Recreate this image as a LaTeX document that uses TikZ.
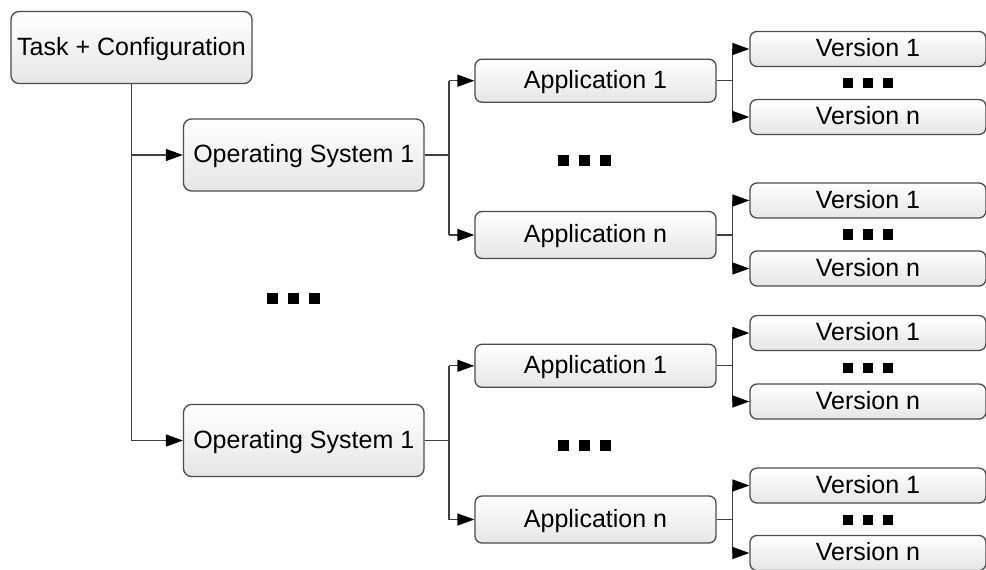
\documentclass[tikz,border=0pt]{standalone}
\usepackage{fontspec}
\setmainfont{Liberation Sans}
\usetikzlibrary{arrows.meta,calc}

\tikzset{
  box/.style={draw=black!70, line width=1.3pt, rounded corners=8pt,
    top color=white, bottom color=black!10, inner sep=0pt,
    text height=18pt, text depth=3pt,
    font=\fontsize{25}{28}\selectfont, text=black},
  bigbox/.style={box, minimum width=240.5pt, minimum height=72pt},
  appbox/.style={box, minimum width=241pt, rounded corners=7pt},
  verbox/.style={box, minimum width=236pt, minimum height=35pt, rounded corners=7pt},
  link/.style={draw=black!75, line width=1.3pt},
  arr/.style={link, -{Triangle[length=17pt,width=12pt,black]}},
  pics/threedots/.style={code={
    \foreach \i in {-1,0,1}
      \fill[black] ($(\i*#1,0)+(-5.5pt,-5.5pt)$) rectangle ++(11pt,11pt);
  }},
}

\begin{document}
\begin{tikzpicture}[x=1pt, y=-1pt]
  \clip (0,0) rectangle (986,570);
  \fill[white] (0,0) rectangle (986,570);

  % root and operating systems
  \node[box, minimum width=241pt, minimum height=72pt] (task) at (131.5,47.5) {Task + Configuration};
  \node[bigbox] (os1) at (303.75,155) {Operating System 1};
  \node[bigbox] (os2) at (303.75,440.5) {Operating System 1};

  % applications
  \node[appbox, minimum height=43pt] (a11) at (595.5,80.7) {Application 1};
  \node[appbox, minimum height=47pt] (a1n) at (595.5,235) {Application n};
  \node[appbox, minimum height=43pt] (a21) at (595.5,365.8) {Application 1};
  \node[appbox, minimum height=47pt] (a2n) at (595.5,519.5) {Application n};

  % versions
  \node[verbox] (v111) at (868,49) {Version 1};
  \node[verbox] (v11n) at (868,117) {Version n};
  \node[verbox] (v1n1) at (868,200.5) {Version 1};
  \node[verbox] (v1nn) at (868,268.5) {Version n};
  \node[verbox] (v211) at (868,333) {Version 1};
  \node[verbox] (v21n) at (868,401.5) {Version n};
  \node[verbox] (v2n1) at (868,485.5) {Version 1};
  \node[verbox] (v2nn) at (868,553) {Version n};

  % fork points
  \coordinate (ox) at (449,0);
  \coordinate (ax) at (732.5,0);

  % root to operating systems
  \draw[link] (task.south) -- (task.south |- os2.west);
  \draw[arr] (task.south |- os1.west) -- (os1.west);
  \draw[arr] (task.south |- os2.west) -- (os2.west);

  % operating systems to applications
  \foreach \o/\p/\q in {os1/a11/a1n, os2/a21/a2n}{
    \draw[link] (\o.east) -- (ox |- \o.east);
    \draw[link] (ox |- \p.west) -- (ox |- \q.west);
    \draw[arr] (ox |- \p.west) -- (\p.west);
    \draw[arr] (ox |- \q.west) -- (\q.west);
  }

  % applications to versions
  \foreach \a/\p/\q in {a11/v111/v11n, a1n/v1n1/v1nn, a21/v211/v21n, a2n/v2n1/v2nn}{
    \draw[link] (\a.east) -- (ax |- \a.east);
    \draw[link] (ax |- \p.west) -- (ax |- \q.west);
    \draw[arr] (ax |- \p.west) -- (\p.west);
    \draw[arr] (ax |- \q.west) -- (\q.west);
  }

  % ellipses
  \pic at (293,298.5) {threedots=21pt};
  \pic at (584.5,160) {threedots=21pt};
  \pic at (584.5,445.5) {threedots=21pt};
  \pic[scale=0.92] at (868,83) {threedots=22pt};
  \pic[scale=0.92] at (868,234.5) {threedots=22pt};
  \pic[scale=0.92] at (868,368) {threedots=22pt};
  \pic[scale=0.92] at (868,520) {threedots=22pt};
\end{tikzpicture}
\end{document}
